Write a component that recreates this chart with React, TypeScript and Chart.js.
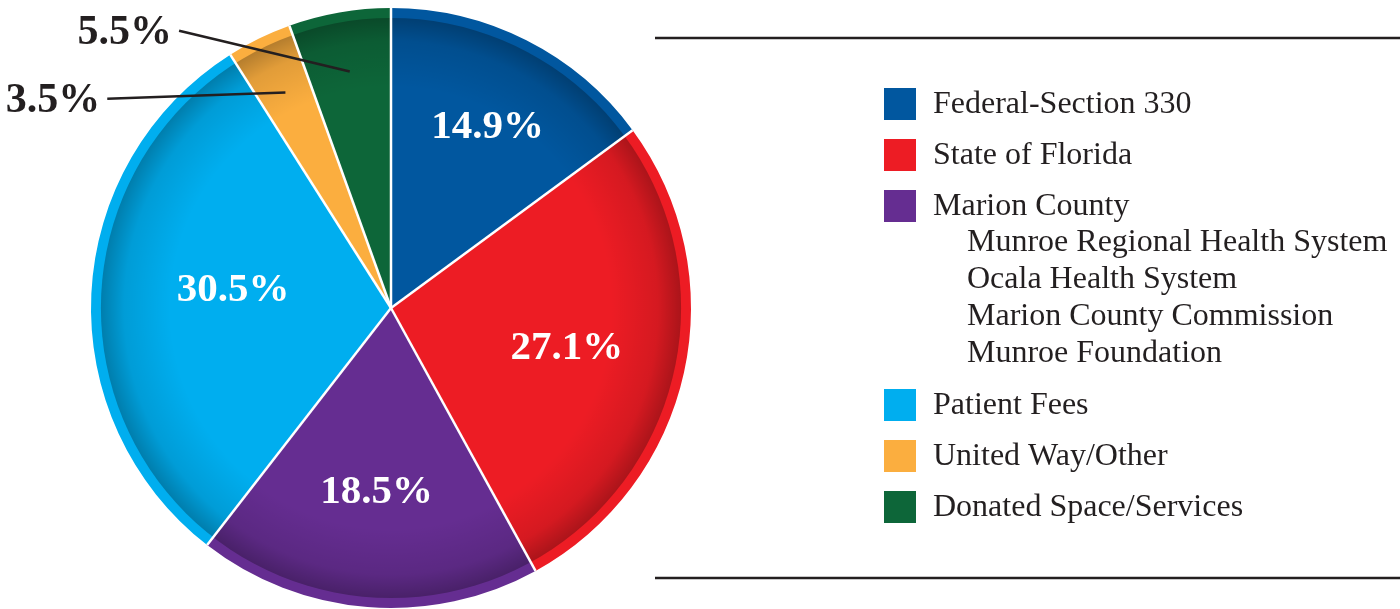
import React, { useEffect, useRef } from "react";
import { Chart, registerables } from "chart.js";

Chart.register(...registerables);

const categories = [
  "Federal-Section 330",
  "State of Florida",
  "Marion County",
  "Patient Fees",
  "United Way/Other",
  "Donated Space/Services",
];
const values = [14.9, 27.1, 18.5, 30.5, 3.5, 5.5];
const colors = ["#01579f", "#ed1c24", "#652d91", "#00aeef", "#fbae3f", "#0d6639"];
const valueLabels = ["14.9%", "27.1%", "18.5%", "30.5%", "3.5%", "5.5%"];
const marionSubItems = [
  "Munroe Regional Health System",
  "Ocala Health System",
  "Marion County Commission",
  "Munroe Foundation",
];

// label placement (fractions of radius, degree nudges from the slice mid-angle)
const insideLabelRadius = [0.69, 0.6, 0.61, 0.53, 0, 0];
const insideLabelAngleNudge = [1, 0, 0, 4.2, 0, 0];
const outsideLabel = [false, false, false, false, true, true];
const leaderInnerRadius = [0, 0, 0, 0, 0.8, 0.8];
// outer anchor of leader lines: [radius factor, angle in degrees clockwise from top]
const leaderOuter: Array<[number, number]> = [
  [0, 0], [0, 0], [0, 0], [0, 0],
  [1.175, 306.4],
  [1.163, 322.6],
];

const FONT = '"Liberation Serif", "Times New Roman", serif';
const INK = "#231f20";

const decorPlugin = {
  id: "decor",
  afterDatasetsDraw(chart: any) {
    const ctx: CanvasRenderingContext2D = chart.ctx;
    const arcs = chart.getDatasetMeta(0).data;
    const p0 = arcs[0].getProps(["x", "y", "outerRadius"], true);
    const cx = p0.x, cy = p0.y, R = p0.outerRadius;

    // inner shading (bevel effect)
    ctx.save();
    const rIn = R * 0.967;
    ctx.beginPath();
    ctx.arc(cx, cy, rIn, 0, Math.PI * 2);
    ctx.clip();
    const g = ctx.createRadialGradient(cx, cy, 0, cx, cy, rIn);
    g.addColorStop(0, "rgba(0,0,0,0)");
    g.addColorStop(0.76, "rgba(0,0,0,0)");
    g.addColorStop(0.92, "rgba(0,0,0,0.1)");
    g.addColorStop(1, "rgba(0,0,0,0.28)");
    ctx.fillStyle = g;
    ctx.fillRect(cx - R, cy - R, 2 * R, 2 * R);
    ctx.restore();

    // separators
    ctx.save();
    ctx.strokeStyle = "#ffffff";
    ctx.lineWidth = 2.5;
    arcs.forEach((a: any) => {
      const { startAngle } = a.getProps(["startAngle"], true);
      ctx.beginPath();
      ctx.moveTo(cx, cy);
      ctx.lineTo(cx + R * Math.cos(startAngle), cy + R * Math.sin(startAngle));
      ctx.stroke();
    });
    ctx.restore();

    // labels
    ctx.save();
    ctx.textBaseline = "middle";
    arcs.forEach((a: any, i: number) => {
      const { startAngle, endAngle } = a.getProps(["startAngle", "endAngle"], true);
      const mid = (startAngle + endAngle) / 2;
      if (!outsideLabel[i]) {
        const r = R * insideLabelRadius[i];
        const ang = mid + (insideLabelAngleNudge[i] * Math.PI) / 180;
        ctx.fillStyle = "#ffffff";
        ctx.font = `bold 41px ${FONT}`;
        ctx.textAlign = "center";
        ctx.fillText(valueLabels[i], cx + r * Math.cos(ang), cy + r * Math.sin(ang) + 2);
      } else {
        const ri = R * leaderInnerRadius[i];
        const [rf, deg] = leaderOuter[i];
        const ang = ((deg - 90) * Math.PI) / 180;
        const ox = cx + R * rf * Math.cos(ang);
        const oy = cy + R * rf * Math.sin(ang);
        ctx.strokeStyle = INK;
        ctx.lineWidth = 2.5;
        ctx.beginPath();
        ctx.moveTo(ox, oy);
        ctx.lineTo(cx + ri * Math.cos(mid), cy + ri * Math.sin(mid));
        ctx.stroke();
        ctx.fillStyle = INK;
        ctx.font = `bold 42px ${FONT}`;
        ctx.textAlign = "right";
        ctx.fillText(valueLabels[i], ox - 7, oy + 2);
      }
    });
    ctx.restore();
  },
  afterDraw(chart: any) {
    const ctx: CanvasRenderingContext2D = chart.ctx;
    const W = chart.width;
    ctx.save();
    // rules
    ctx.strokeStyle = INK;
    ctx.lineWidth = 2.5;
    [38, 578].forEach((y) => {
      ctx.beginPath();
      ctx.moveTo(655, y);
      ctx.lineTo(W, y);
      ctx.stroke();
    });
    // legend
    const rows: Array<{ text: string; color?: string }> = [];
    categories.forEach((c, i) => {
      rows.push({ text: c, color: colors[i] });
      if (i === 2) marionSubItems.forEach((s) => rows.push({ text: s }));
    });
    let y = 104 - 51;
    ctx.font = `32px ${FONT}`;
    ctx.textBaseline = "middle";
    ctx.textAlign = "left";
    let prevSub = false;
    rows.forEach((r) => {
      const isSub = !r.color;
      let gap = isSub ? 37 : 51;
      if (!isSub && prevSub) gap = 52;
      if (isSub && !prevSub) gap = 36;
      y += gap;
      if (r.color) {
        ctx.fillStyle = r.color;
        ctx.fillRect(884, y - 16, 32, 32);
        ctx.fillStyle = INK;
        ctx.fillText(r.text, 933, y + 1);
      } else {
        ctx.fillStyle = INK;
        ctx.fillText(r.text, 967, y + 1);
      }
      prevSub = isSub;
    });
    ctx.restore();
  },
};

export default function App() {
  const ref = useRef<HTMLCanvasElement | null>(null);
  useEffect(() => {
    if (!ref.current) return;
    const chart = new Chart(ref.current, {
      type: "pie",
      data: {
        labels: categories,
        datasets: [
          {
            data: values,
            backgroundColor: colors,
            borderWidth: 0,
          },
        ],
      },
      options: {
        responsive: false,
        animation: false,
        layout: { padding: { left: 90, right: 708, top: 8, bottom: 1 } },
        plugins: { legend: { display: false }, tooltip: { enabled: false } },
      },
      plugins: [decorPlugin],
    });
    return () => chart.destroy();
  }, []);
  return (
    <div style={{ position: "absolute", left: 0, top: 0, width: 1400, height: 609, background: "#fff" }}>
      <canvas ref={ref} width={1400} height={609} style={{ display: "block" }} />
    </div>
  );
}
